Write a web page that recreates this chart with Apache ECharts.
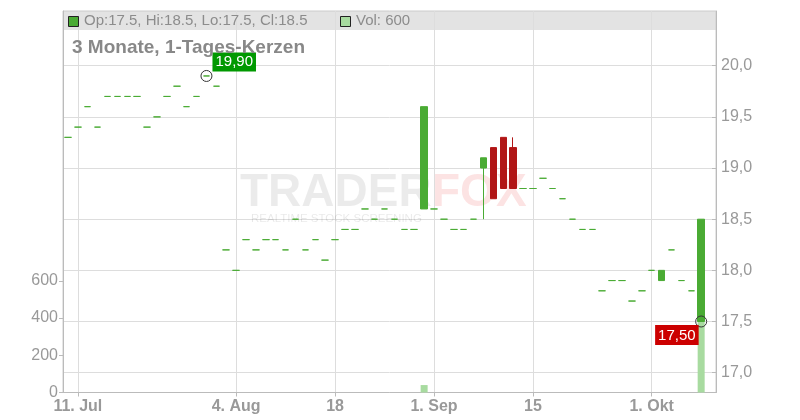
<!DOCTYPE html>
<html><head><meta charset="utf-8">
<script src="https://cdn.jsdelivr.net/npm/echarts@6/dist/echarts.min.js"></script>
<style>html,body{margin:0;padding:0;background:#fff}#c{width:800px;height:420px}</style>
</head><body><div id="c"></div>
<script>
// Trading days (last slot is an empty day at the right edge)
const dates = [
 '10.07.','11.07.','14.07.','15.07.','16.07.','17.07.','18.07.','21.07.','22.07.','23.07.','24.07.','25.07.','28.07.','29.07.','30.07.','31.07.',
 '01.08.','04.08.','05.08.','06.08.','07.08.','08.08.','11.08.','12.08.','13.08.','14.08.','15.08.','18.08.','19.08.','20.08.','21.08.','22.08.','25.08.','26.08.','27.08.','28.08.','29.08.',
 '01.09.','02.09.','03.09.','04.09.','05.09.','08.09.','09.09.','10.09.','11.09.','12.09.','15.09.','16.09.','17.09.','18.09.','19.09.','22.09.','23.09.','24.09.','25.09.','26.09.','29.09.','30.09.',
 '01.10.','02.10.','03.10.','06.10.','07.10.','08.10.','09.10.'
];
const opens = [
 19.3,19.4,19.6,19.4,19.7,19.7,19.7,19.7,19.4,19.5,19.7,19.8,19.6,19.7,19.9,19.8,
 18.2,18.0,18.3,18.2,18.3,18.3,18.2,18.5,18.2,18.3,18.1,18.3,18.4,18.4,18.6,18.5,18.6,18.5,18.4,18.4,
 18.6,18.6,18.5,18.4,18.4,18.5,19.0,19.2,19.3,19.2,
 18.8,18.8,18.9,18.8,18.7,18.5,18.4,18.4,17.8,17.9,17.9,17.7,17.8,18.0,17.9,18.2,17.9,17.8,17.5,null
];
const closes = [
 19.3,19.4,19.6,19.4,19.7,19.7,19.7,19.7,19.4,19.5,19.7,19.8,19.6,19.7,19.9,19.8,
 18.2,18.0,18.3,18.2,18.3,18.3,18.2,18.5,18.2,18.3,18.1,18.3,18.4,18.4,18.6,18.5,18.6,18.5,18.4,18.4,
 19.6,18.6,18.5,18.4,18.4,18.5,19.1,18.7,18.8,18.8,
 18.8,18.8,18.9,18.8,18.7,18.5,18.4,18.4,17.8,17.9,17.9,17.7,17.8,18.0,18.0,18.2,17.9,17.8,18.5,null
];
const lows = [
 19.3,19.4,19.6,19.4,19.7,19.7,19.7,19.7,19.4,19.5,19.7,19.8,19.6,19.7,19.9,19.8,
 18.2,18.0,18.3,18.2,18.3,18.3,18.2,18.5,18.2,18.3,18.1,18.3,18.4,18.4,18.6,18.5,18.6,18.5,18.4,18.4,
 18.6,18.6,18.5,18.4,18.4,18.5,18.5,18.7,18.8,18.8,
 18.8,18.8,18.9,18.8,18.7,18.5,18.4,18.4,17.8,17.9,17.9,17.7,17.8,18.0,17.9,18.2,17.9,17.8,17.5,null
];
const highs = [
 19.3,19.4,19.6,19.4,19.7,19.7,19.7,19.7,19.4,19.5,19.7,19.8,19.6,19.7,19.9,19.8,
 18.2,18.0,18.3,18.2,18.3,18.3,18.2,18.5,18.2,18.3,18.1,18.3,18.4,18.4,18.6,18.5,18.6,18.5,18.4,18.4,
 19.6,18.6,18.5,18.4,18.4,18.5,19.1,19.2,19.3,19.3,
 18.8,18.8,18.9,18.8,18.7,18.5,18.4,18.4,17.8,17.9,17.9,17.7,17.8,18.0,18.0,18.2,17.9,17.8,18.5,null
];
const volumes = [
 null,null,null,null,null,null,null,null,null,null,null,null,null,null,null,null,
 null,null,null,null,null,null,null,null,null,null,null,null,null,null,null,null,null,null,null,null,
 40,null,null,null,null,null,null,null,null,null,
 null,null,null,null,null,null,null,null,null,null,null,null,null,null,null,null,null,null,600,null
];
const xTickDates  = ['11.07.','04.08.','18.08.','01.09.','15.09.','01.10.'];
const xTickLabels = ['11. Jul','4. Aug','18','1. Sep','15','1. Okt'];
const priceTicks = [17.0,17.5,18.0,18.5,19.0,19.5,20.0];
const volTicks = [0,200,400,600];
const markIdx = [14, 64];
const markVal = [19.9, 17.5];
const markColor = ['#009900', '#cc0000'];

const FONT = '"Liberation Sans", Arial, sans-serif';
const last = 64;
const candleData = dates.map((d,i)=> opens[i]==null ? '-' : [opens[i], closes[i], lows[i], highs[i]]);
const isTickIdx = (i) => xTickDates.indexOf(dates[i]) >= 0;
const fmtC = (v, d) => v.toFixed(d).replace('.', ',');

const chart = echarts.init(document.getElementById('c'), null, {renderer:'canvas'});
const markData = markIdx.map((ix, k) => ({
  value: [ix, markVal[k]],
  label: k === 0
    ? {show:true, formatter: fmtC(markVal[k],2), position:[12, 1.5], align:'left', verticalAlign:'bottom',
       backgroundColor: markColor[k], color:'#fff', padding:[2,3,2,3], fontSize:15, fontFamily:FONT}
    : {show:true, formatter: fmtC(markVal[k],2), position:[3.5, 9.5], align:'right', verticalAlign:'top',
       backgroundColor: markColor[k], color:'#fff', padding:[3,3,2,3], fontSize:15, fontFamily:FONT}
}));

chart.setOption({
  animation: false,
  grid: {left:63, right:84, top:11, bottom:27.5, show:true, borderColor:'#ccc', borderWidth:1},
  xAxis: {
    type:'category', data: dates, boundaryGap:true,
    axisLine:{lineStyle:{color:'#bbb'}},
    axisTick:{show:true, alignWithLabel:true, interval: isTickIdx, length:4, lineStyle:{color:'#bbb'}},
    axisLabel:{interval: isTickIdx, formatter: v => xTickLabels[xTickDates.indexOf(v)] || '',
      color:'#999', fontFamily:FONT, fontSize:16, fontWeight:'bold', margin:6},
    splitLine:{show:true, interval: isTickIdx, alignWithLabel:true, lineStyle:{color:'#ddd'}}
  },
  yAxis: [
    {type:'value', position:'right', min:16.806, max:20.535, scale:true,
      axisLine:{show:true, lineStyle:{color:'#bbb'}},
      axisTick:{show:true, inside:true, length:4, customValues: priceTicks, lineStyle:{color:'#bbb'}},
      axisLabel:{customValues: priceTicks, formatter: v => fmtC(v,1), color:'#999', fontSize:16, fontFamily:FONT, margin:5},
      splitLine:{show:true, lineStyle:{color:'#ddd'}}},
    {type:'value', position:'left', min:0, max:2050,
      axisLine:{show:true, lineStyle:{color:'#bbb'}},
      axisTick:{show:true, length:4, customValues: volTicks, lineStyle:{color:'#bbb'}},
      axisLabel:{customValues: volTicks, formatter: v => String(v), color:'#999', fontSize:16, fontFamily:FONT, margin:5},
      splitLine:{show:false}}
  ],
  graphic: [
    {type:'rect', z:-1, shape:{x:63, y:11, width:653, height:19}, style:{fill:'#e3e3e3'}, silent:true},
    {type:'rect', z:10, shape:{x:68.5, y:16.5, width:10, height:10}, style:{fill:'#4aab34', stroke:'#222', lineWidth:1}},
    {type:'text', z:10, x:84, y:21, style:{text:'Op:'+opens[last]+', Hi:'+highs[last]+', Lo:'+lows[last]+', Cl:'+closes[last],
      fill:'#8c8c8c', font:'15px '+FONT, verticalAlign:'middle'}},
    {type:'rect', z:10, shape:{x:340.5, y:16.5, width:10, height:10}, style:{fill:'#a8dba0', stroke:'#222', lineWidth:1}},
    {type:'text', z:10, x:356, y:21, style:{text:'Vol: '+volumes[last], fill:'#8c8c8c', font:'15px '+FONT, verticalAlign:'middle'}},
    {type:'text', z:10, x:72, y:48, style:{text:'3 Monate, 1-Tages-Kerzen', fill:'#888', font:'bold 19px '+FONT, verticalAlign:'middle'}},
    {type:'text', z:1, x:240, y:193, style:{text:'TRADER', fill:'rgba(0,0,0,0.08)', font:'bold 46px '+FONT, verticalAlign:'middle'}},
    {type:'text', z:1, x:432, y:193, style:{text:'FOX', fill:'rgba(235,40,40,0.13)', font:'bold 46px '+FONT, verticalAlign:'middle'}},
    {type:'text', z:1, x:251, y:219, style:{text:'REALTIME STOCK SCREENING', fill:'rgba(0,0,0,0.09)', font:'11.5px '+FONT, verticalAlign:'middle'}}
  ],
  series: [
    {type:'bar', name:'Vol', xAxisIndex:0, yAxisIndex:1, data: volumes, barWidth:7, z:1, silent:true,
      itemStyle:{color:'#a8dba0'}},
    {type:'candlestick', name:'Kurs', xAxisIndex:0, yAxisIndex:0, data: candleData, barWidth:7, z:3, silent:true,
      itemStyle:{color:'#4aab34', color0:'#b11616', borderColor:'#4aab34', borderColor0:'#b11616', borderColorDoji:'#4aab34', borderWidth:1}},
    {type:'scatter', xAxisIndex:0, yAxisIndex:0, data: markData, symbol:'circle', symbolSize:11, z:5, silent:true,
      itemStyle:{color:'rgba(0,0,0,0)', borderColor:'#333', borderWidth:1, opacity:1}}
  ]
});
</script></body></html>
